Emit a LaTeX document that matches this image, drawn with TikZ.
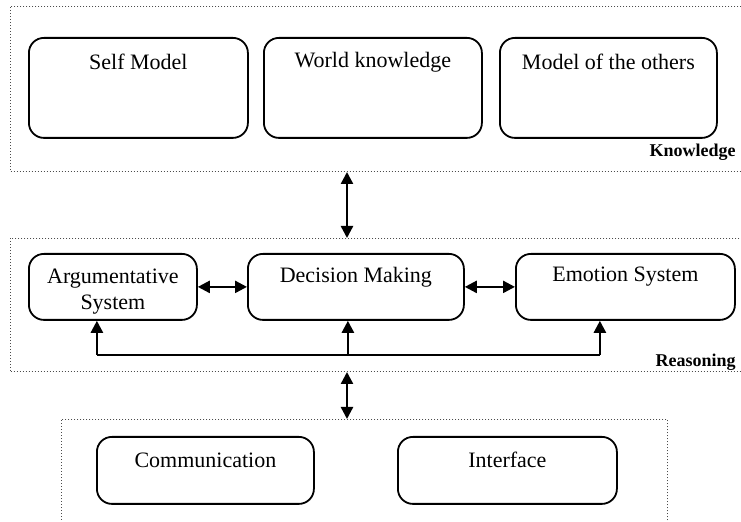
\documentclass[tikz,border=0pt]{standalone}
\usepackage{fontspec}
\setmainfont{Liberation Serif}
\usetikzlibrary{arrows.meta}
\begin{document}
\begin{tikzpicture}[x=0.5pt,y=-0.5pt,
  frame/.style={draw=black!70, line width=0.5pt, densely dotted, inner sep=0pt, anchor=north west},
  box/.style={draw, line width=0.9pt, rounded corners=7.5pt, inner sep=0pt, anchor=north west},
  txt/.style={font=\fontsize{11}{13}\selectfont, align=center, inner sep=0pt},
  lbl/.style={font=\fontsize{9}{11}\selectfont\bfseries, inner sep=0pt, anchor=east},
  arr/.style={line width=1.2pt, -{Triangle[length=6pt,width=6pt]}},
  darr/.style={line width=1.2pt, {Triangle[length=6pt,width=6pt]}-{Triangle[length=6pt,width=6pt]}}]
\useasboundingbox (0,0) rectangle (741,522);
\clip (0,0) rectangle (741,522);
% frames
\node[frame, minimum width=380pt, minimum height=82.5pt] (kf) at (10,6) {};
\node[frame, minimum width=380pt, minimum height=66.5pt] (rf) at (10,238) {};
\node[frame, minimum width=303pt, minimum height=70pt] (bf) at (61,419) {};
% knowledge boxes
\node[box, minimum width=109.5pt, minimum height=50pt] (self) at (28,37) {};
\node[box, minimum width=109pt, minimum height=50pt] (world) at (263,37) {};
\node[box, minimum width=108.5pt, minimum height=50pt] (others) at (499,37) {};
\node[txt] (tself) at ([yshift=-12.5pt]self.north) {Self Model};
\node[txt] (tworld) at ([yshift=-12.5pt]world.north) {World knowledge};
\node[txt] (tothers) at ([yshift=-12.5pt]others.north) {Model of the others};
\node[lbl] (lk) at (736,152) {Knowledge};
% reasoning boxes
\node[box, minimum width=84pt, minimum height=33pt] (arg) at (28,253) {};
\node[box, minimum width=108pt, minimum height=33pt] (dm) at (247,253) {};
\node[box, minimum width=109.5pt, minimum height=33pt] (emo) at (515,253) {};
\node[txt] (targ) at ([yshift=-19.5pt]arg.north) {Argumentative\\System};
\node[txt] (tdm) at ([yshift=-12pt]dm.north) {Decision Making};
\node[txt] (temo) at ([yshift=-12pt]emo.north) {Emotion System};
\node[lbl] (lr) at (736,362) {Reasoning};
% bottom boxes
\node[box, minimum width=108.5pt, minimum height=33.5pt] (comm) at (96,436) {};
\node[box, minimum width=109.5pt, minimum height=33.5pt] (intf) at (397,436) {};
\node[txt] (tcomm) at ([yshift=-12pt]comm.north) {Communication};
\node[txt] (tintf) at ([yshift=-12pt]intf.north) {Interface};
% connectors
\coordinate (mx) at (347,0);
\draw[darr] (kf.south -| mx) -- (rf.north -| mx);
\draw[darr] (rf.south -| mx) -- (bf.north -| mx);
\draw[darr] (arg.east) -- (dm.west);
\draw[darr] (dm.east) -- (emo.west);
\coordinate (pA) at ([xshift=-8pt]arg.south);
\coordinate (pB) at ([xshift=-4pt]dm.south);
\coordinate (pC) at ([xshift=-12.75pt]emo.south);
\coordinate (bA) at ([yshift=-17pt]pA);
\coordinate (bB) at ([yshift=-17pt]pB);
\coordinate (bC) at ([yshift=-17pt]pC);
\draw[line width=1.2pt] (bA) -- (bC);
\draw[arr] (bA) -- (pA);
\draw[arr] (bB) -- (pB);
\draw[arr] (bC) -- (pC);
\end{tikzpicture}
\end{document}
